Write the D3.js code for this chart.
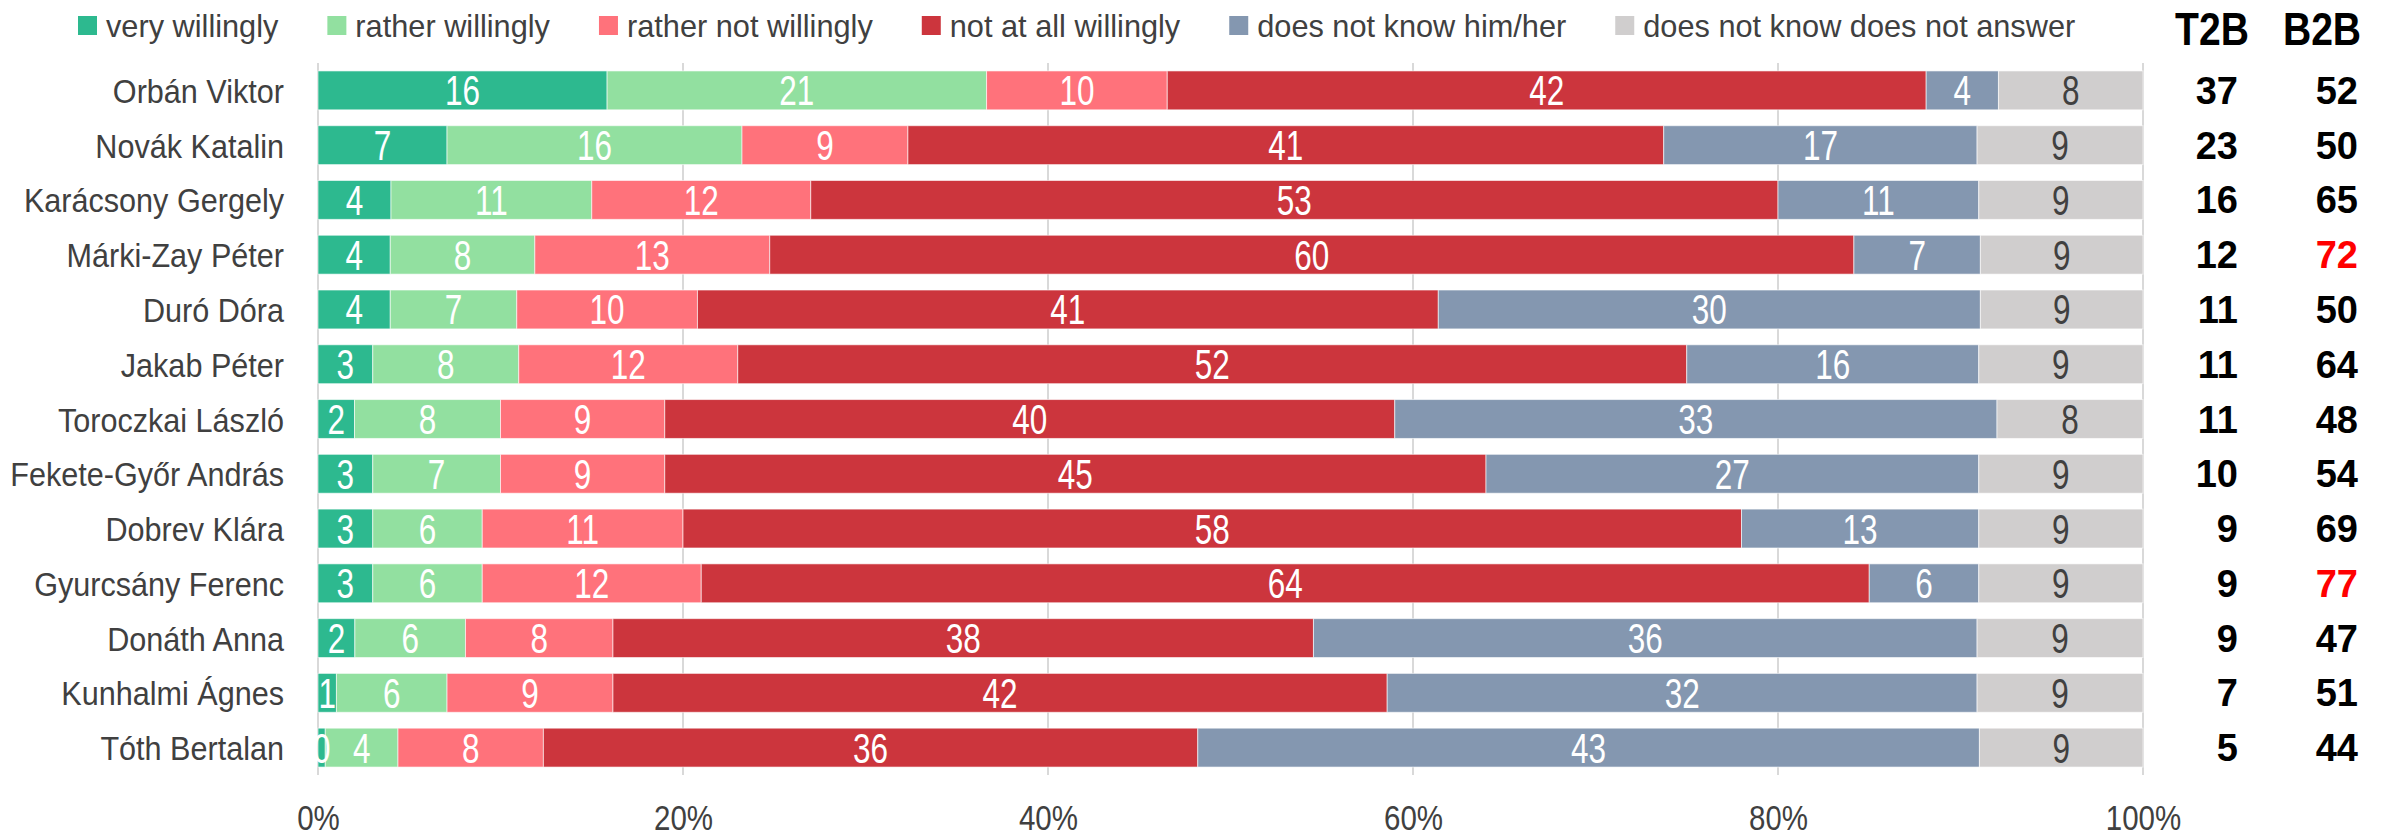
<!DOCTYPE html>
<html>
<head>
<meta charset="utf-8">
<script src="https://cdnjs.cloudflare.com/ajax/libs/d3/7.8.5/d3.min.js"></script>
<style>
  body { margin: 0; background: #ffffff; }
  text { font-family: "Liberation Sans", Arial, sans-serif; }
</style>
</head>
<body>
<div id="chart"></div>
<script>
// Data
// ==============================
var names = ["Orbán Viktor", "Novák Katalin", "Karácsony Gergely", "Márki-Zay Péter", "Duró Dóra",
  "Jakab Péter", "Toroczkai László", "Fekete-Győr András", "Dobrev Klára", "Gyurcsány Ferenc",
  "Donáth Anna", "Kunhalmi Ágnes", "Tóth Bertalan"];
var veryWillingly   = [16, 7, 4, 4, 4, 3, 2, 3, 3, 3, 2, 1, 0.4];
var ratherWillingly = [21, 16, 11, 8, 7, 8, 8, 7, 6, 6, 6, 6, 4];
var ratherNot       = [10, 9, 12, 13, 10, 12, 9, 9, 11, 12, 8, 9, 8];
var notAtAll        = [42, 41, 53, 60, 41, 52, 40, 45, 58, 64, 38, 42, 36];
var unknownPerson   = [4, 17, 11, 7, 30, 16, 33, 27, 13, 6, 36, 32, 43];
var noAnswer        = [8, 9, 9, 9, 9, 9, 8, 9, 9, 9, 9, 9, 9];
var t2b = [37, 23, 16, 12, 11, 11, 11, 10, 9, 9, 9, 7, 5];
var b2b = [52, 50, 65, 72, 50, 64, 48, 54, 69, 77, 47, 51, 44];
var b2bFlagged = ["Márki-Zay Péter", "Gyurcsány Ferenc"];
var seriesNames = ["very willingly", "rather willingly", "rather not willingly",
  "not at all willingly", "does not know him/her", "does not know does not answer"];
var seriesColors = ["#2db98f", "#92e0a0", "#ff727b", "#cc353d", "#8497b0", "#d0cece"];
var labelColors = ["#ffffff", "#ffffff", "#ffffff", "#ffffff", "#ffffff", "#404040"];
var tickValues = [0, 20, 40, 60, 80, 100];

var svgWidth = 2389;
var svgHeight = 838;

var svg = d3.select("#chart")
  .append("svg")
  .attr("width", svgWidth)
  .attr("height", svgHeight);

// Step 1: build rows and stack them to 100%
// ==============================
var keys = ["s0", "s1", "s2", "s3", "s4", "s5"];
var seriesArrays = [veryWillingly, ratherWillingly, ratherNot, notAtAll, unknownPerson, noAnswer];
var rows = names.map(function(n, i) {
  var r = { name: n };
  keys.forEach(function(k, j) { r[k] = seriesArrays[j][i]; });
  return r;
});
var stacked = d3.stack().keys(keys).offset(d3.stackOffsetExpand)(rows);

// Step 2: scales
// ==============================
var xScale = d3.scaleLinear().domain([0, 1]).range([318, 2143]);
var yScale = d3.scaleBand().domain(names).range([63, 775])
  .paddingInner(0.29).paddingOuter(0.145);

// Step 3: gridlines
// ==============================
svg.append("g").selectAll("line")
  .data(tickValues)
  .enter()
  .append("line")
  .attr("x1", d => xScale(d / 100))
  .attr("x2", d => xScale(d / 100))
  .attr("y1", 63)
  .attr("y2", 775)
  .attr("stroke", "#d9d9d9")
  .attr("stroke-width", 2);

// Step 4: bars
// ==============================
var layers = svg.append("g").selectAll("g")
  .data(stacked)
  .enter()
  .append("g")
  .attr("fill", (d, i) => seriesColors[i]);

layers.selectAll("rect")
  .data(d => d)
  .enter()
  .append("rect")
  .attr("x", d => xScale(d[0]))
  .attr("y", d => yScale(d.data.name))
  .attr("width", d => xScale(d[1]) - xScale(d[0]))
  .attr("height", yScale.bandwidth())
  .attr("stroke", "#ffffff")
  .attr("stroke-opacity", 0.6)
  .attr("stroke-width", 1);

// segment labels
var fmt = d3.format(".0f");
stacked.forEach(function(layer, i) {
  svg.append("g").selectAll("text")
    .data(layer)
    .enter()
    .append("text")
    .attr("transform", d => `translate(${(xScale(d[0]) + xScale(d[1])) / 2}, ${yScale(d.data.name) + yScale.bandwidth() / 2 + 15}) scale(0.75,1)`)
    .attr("text-anchor", "middle")
    .attr("font-size", 42)
    .attr("fill", labelColors[i])
    .text(d => fmt(d.data[keys[i]]));
});

// Step 5: category labels
// ==============================
svg.append("g").selectAll("text")
  .data(names)
  .enter()
  .append("text")
  .attr("transform", d => `translate(284, ${yScale(d) + yScale.bandwidth() / 2 + 12.5}) scale(0.9,1)`)
  .attr("text-anchor", "end")
  .attr("font-size", 34)
  .attr("fill", "#404040")
  .text(d => d);

// Step 6: x axis
// ==============================
var bottomAxis = d3.axisBottom(xScale)
  .tickValues(tickValues.map(v => v / 100))
  .tickFormat(d3.format(".0%"))
  .tickSize(0)
  .tickPadding(29);
var xAxis = svg.append("g")
  .attr("transform", "translate(0, 775)")
  .call(bottomAxis);
xAxis.select(".domain").remove();
xAxis.selectAll("text")
  .attr("font-size", 36)
  .attr("font-family", null)
  .attr("fill", "#404040")
  .attr("transform", "scale(0.82,1)");

// Step 7: legend
// ==============================
var legendX = 78;
seriesNames.forEach(function(s, i) {
  svg.append("rect")
    .attr("x", legendX)
    .attr("y", 16)
    .attr("width", 19)
    .attr("height", 19)
    .attr("fill", seriesColors[i]);
  var t = svg.append("text")
    .attr("transform", `translate(${legendX + 28}, 37) scale(0.96,1)`)
    .attr("font-size", 32)
    .attr("fill", "#404040")
    .text(s);
  legendX += 28 + t.node().getComputedTextLength() * 0.96 + 49;
});

// Step 8: T2B / B2B columns
// ==============================
svg.append("text")
  .attr("transform", "translate(2212, 45) scale(0.85,1)")
  .attr("text-anchor", "middle")
  .attr("font-size", 46)
  .attr("font-weight", "bold")
  .attr("fill", "#000")
  .text("T2B");
svg.append("text")
  .attr("transform", "translate(2322, 45) scale(0.85,1)")
  .attr("text-anchor", "middle")
  .attr("font-size", 46)
  .attr("font-weight", "bold")
  .attr("fill", "#000")
  .text("B2B");

svg.append("g").selectAll("text")
  .data(names)
  .enter()
  .append("text")
  .attr("x", 2238)
  .attr("y", d => yScale(d) + yScale.bandwidth() / 2 + 13.5)
  .attr("text-anchor", "end")
  .attr("font-size", 38)
  .attr("font-weight", "bold")
  .attr("fill", "#000")
  .text((d, i) => t2b[i]);

svg.append("g").selectAll("text")
  .data(names)
  .enter()
  .append("text")
  .attr("x", 2358)
  .attr("y", d => yScale(d) + yScale.bandwidth() / 2 + 13.5)
  .attr("text-anchor", "end")
  .attr("font-size", 38)
  .attr("font-weight", "bold")
  .attr("fill", d => b2bFlagged.indexOf(d) >= 0 ? "#ff0000" : "#000")
  .text((d, i) => b2b[i]);
</script>
</body>
</html>
